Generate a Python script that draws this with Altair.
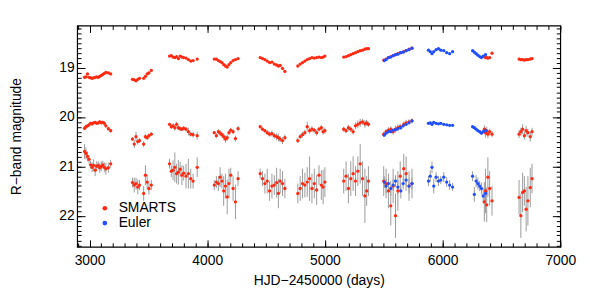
import altair as alt
import pandas as pd

# ---------------- data ----------------
smarts_hjd = [2958, 2970, 2983, 2996, 3009, 3022, 3035, 3048, 3061, 3074, 3087, 3100, 3113, 3126, 3139, 3160, 3180,
              3365, 3380, 3395, 3410, 3425, 3460, 3475, 3490, 3505, 3525,
              3680, 3695, 3710, 3725, 3740, 3755, 3770, 3785, 3800, 3820, 3840, 3860, 3880, 3915,
              4060, 4078, 4095, 4110, 4125, 4140, 4155, 4170, 4185, 4200, 4220, 4240, 4262,
              4450, 4470, 4490, 4510, 4530, 4550, 4570, 4590, 4605, 4620, 4640, 4660,
              4770, 4790, 4810, 4830, 4850, 4870, 4890, 4910, 4930, 4950, 4970, 4985, 5000,
              5160, 5180, 5200, 5220, 5240, 5260, 5280, 5300, 5320, 5340, 5355, 5370,
              5500, 5520, 5540, 5560, 5580, 5600, 5620, 5640, 5670, 5690, 5715, 5740,
              6355, 6365, 6375, 6385, 6400, 6420,
              6650, 6665, 6680, 6695, 6710, 6725, 6745, 6760]
smarts_A = [19.20, 19.19, 19.13, 19.20, 19.21, 19.22, 19.21, 19.20, 19.19, 19.20, 19.18, 19.16, 19.14, 19.12, 19.10, 19.11, 19.13,
            19.24, 19.25, 19.27, 19.24, 19.22, 19.22, 19.18, 19.13, 19.11, 19.06,
            18.77, 18.76, 18.79, 18.80, 18.78, 18.82, 18.77, 18.79, 18.80, 18.81, 18.84, 18.87, 18.86, 18.83,
            18.83, 18.83, 18.86, 18.88, 18.90, 18.94, 18.97, 18.99, 18.94, 18.90, 18.86, 18.84, 18.82,
            18.80, 18.82, 18.84, 18.87, 18.90, 18.89, 18.93, 18.95, 18.97, 18.96, 19.02, 19.08,
            18.97, 18.93, 18.90, 18.87, 18.84, 18.82, 18.80, 18.81, 18.80, 18.79, 18.80, 18.79, 18.77,
            18.79, 18.78, 18.76, 18.74, 18.72, 18.70, 18.68, 18.66, 18.65, 18.63, 18.62, 18.62,
            18.85, 18.83, 18.80, 18.78, 18.76, 18.74, 18.72, 18.70, 18.68, 18.66, 18.63, 18.61,
            18.78, 18.80, 18.80, 18.81, 18.80, 18.71,
            18.83, 18.84, 18.84, 18.85, 18.84, 18.84, 18.83, 18.82]
smarts_B = [20.23, 20.20, 20.18, 20.16, 20.13, 20.14, 20.12, 20.11, 20.13, 20.12, 20.10, 20.12, 20.11, 20.13, 20.18, 20.24, 20.28,
            20.45, 20.55, 20.40, 20.50, 20.48, 20.55, 20.40, 20.42, 20.38, 20.35,
            20.15, 20.20, 20.18, 20.22, 20.15, 20.22, 20.24, 20.25, 20.23, 20.25, 20.30, 20.35, 20.36, 20.38,
            20.32, 20.38, 20.30, 20.33, 20.36, 20.40, 20.45, 20.42, 20.32, 20.27, 20.30, 20.44, 20.24,
            20.20, 20.25, 20.28, 20.32, 20.35, 20.34, 20.38, 20.40, 20.42, 20.45, 20.48, 20.42,
            20.48, 20.40, 20.36, 20.32, 20.20, 20.28, 20.25, 20.27, 20.32, 20.25, 20.22, 20.30, 20.28,
            20.25, 20.28, 20.22, 20.25, 20.30, 20.18, 20.15, 20.12, 20.10, 20.14, 20.12, 20.15,
            20.35, 20.30, 20.27, 20.25, 20.30, 20.25, 20.22, 20.20, 20.15, 20.12, 20.10, 20.08,
            20.25, 20.32, 20.28, 20.35, 20.30, 20.35,
            20.35, 20.30, 20.25, 20.38, 20.28, 20.32, 20.40, 20.30]
smarts_C = [20.70, 20.74, 20.80, 20.86, 20.97, 21.02, 20.98, 21.08, 21.00, 20.98, 21.03, 21.00, 20.97, 21.02, 21.05, 21.03, 20.95,
            21.33, 21.38, 21.35, 21.42, 21.38, 21.55, 21.18, 21.32, 21.45, 21.38,
            20.95, 21.10, 21.08, 21.02, 21.15, 21.12, 21.06, 21.18, 21.14, 21.20, 21.15, 21.25, 21.30, 21.02,
            21.38, 21.32, 21.35, 21.22, 21.30, 21.50, 21.40, 21.62, 21.35, 21.18, 21.45, 21.72, 21.25,
            21.15, 21.25, 21.35, 21.30, 21.50, 21.40, 21.38, 21.33, 21.55, 21.30, 21.35, 21.45,
            21.55, 21.45, 21.35, 21.38, 21.32, 21.25, 21.45, 21.35, 21.48, 21.18, 21.38, 21.42, 21.32,
            21.30, 21.20, 21.45, 21.25, 21.15, 21.30, 21.10, 20.95, 21.25, 21.60, 21.50, 21.30,
            21.30, 21.35, 21.50, 21.80, 21.40, 22.00, 21.50, 21.20, 21.05, 21.15, 21.40, 21.35,
            21.72, 21.50, 21.78, 21.22, 21.45, 21.70,
            21.63, 22.00, 21.53, 21.50, 21.87, 21.70, 21.43, 21.25]
smarts_errA = [0.02] * 17 + [0.02] * 10 + [0.02] * 14 + [0.02] * 13 + [0.02] * 12 + [0.02] * 13 + [0.02] * 12 + [0.02] * 12 + [0.03] * 6 + [0.03] * 8
smarts_errB = [0.04, 0.04, 0.03, 0.03, 0.03, 0.04, 0.03, 0.03, 0.03, 0.04, 0.03, 0.03, 0.03, 0.04, 0.04, 0.04, 0.04,
               0.04, 0.08, 0.10, 0.06, 0.05, 0.06, 0.05, 0.05, 0.04, 0.04,
               0.03, 0.04, 0.05, 0.06, 0.05, 0.05, 0.05, 0.04, 0.04, 0.05, 0.08, 0.05, 0.06, 0.08,
               0.03, 0.05, 0.05, 0.06, 0.06, 0.07, 0.07, 0.06, 0.05, 0.05, 0.05, 0.06, 0.05,
               0.03, 0.04, 0.04, 0.05, 0.05, 0.06, 0.06, 0.07, 0.08, 0.06, 0.07, 0.06,
               0.05, 0.05, 0.06, 0.06, 0.10, 0.06, 0.06, 0.05, 0.06, 0.05, 0.05, 0.06, 0.06,
               0.05, 0.05, 0.06, 0.06, 0.06, 0.07, 0.08, 0.08, 0.06, 0.08, 0.06, 0.05,
               0.05, 0.05, 0.06, 0.06, 0.06, 0.07, 0.07, 0.06, 0.06, 0.06, 0.05, 0.05,
               0.08, 0.10, 0.08, 0.08, 0.06, 0.06,
               0.08, 0.08, 0.10, 0.08, 0.10, 0.08, 0.10, 0.08]
smarts_errC = [0.15, 0.12, 0.10, 0.08, 0.08, 0.10, 0.12, 0.12, 0.10, 0.08, 0.10, 0.10, 0.08, 0.10, 0.12, 0.10, 0.08,
               0.10, 0.15, 0.12, 0.15, 0.10, 0.15, 0.20, 0.15, 0.12, 0.10,
               0.10, 0.12, 0.20, 0.30, 0.20, 0.25, 0.15, 0.20, 0.15, 0.25, 0.30, 0.20, 0.15, 0.20,
               0.10, 0.12, 0.15, 0.20, 0.15, 0.30, 0.25, 0.35, 0.30, 0.15, 0.25, 0.35, 0.15,
               0.10, 0.15, 0.20, 0.25, 0.20, 0.25, 0.20, 0.30, 0.30, 0.25, 0.25, 0.20,
               0.20, 0.25, 0.30, 0.25, 0.30, 0.45, 0.30, 0.30, 0.30, 0.20, 0.30, 0.35, 0.30,
               0.25, 0.30, 0.30, 0.35, 0.35, 0.30, 0.30, 0.40, 0.35, 0.55, 0.30, 0.30,
               0.30, 0.30, 0.35, 0.40, 0.35, 0.45, 0.40, 0.30, 0.30, 0.35, 0.30, 0.30,
               0.40, 0.45, 0.35, 0.40, 0.35, 0.30,
               0.35, 0.45, 0.40, 0.30, 0.45, 0.50, 0.40, 0.30]

euler_hjd = [5505, 5520, 5540, 5560, 5580, 5600, 5620, 5645, 5665, 5690, 5715, 5740,
             5880, 5895, 5910, 5925, 5945, 5965, 5985, 6010, 6035, 6060, 6085,
             6255, 6270, 6285, 6300, 6315, 6330, 6345, 6365]
euler_A = [18.86, 18.84, 18.80, 18.79, 18.76, 18.74, 18.73, 18.70, 18.69, 18.66, 18.64, 18.61,
           18.65, 18.68, 18.72, 18.68, 18.64, 18.62, 18.65, 18.66, 18.70, 18.72, 18.68,
           18.66, 18.69, 18.72, 18.75, 18.78, 18.80, 18.77, 18.74]
euler_B = [20.37, 20.33, 20.30, 20.30, 20.27, 20.26, 20.24, 20.22, 20.18, 20.15, 20.12, 20.08,
           20.13, 20.12, 20.15, 20.11, 20.13, 20.14, 20.13, 20.15, 20.16, 20.17, 20.17,
           20.20, 20.22, 20.25, 20.28, 20.30, 20.33, 20.30, 20.28]
euler_C = [21.32, 21.40, 21.35, 21.45, 21.38, 21.30, 21.42, 21.50, 21.35, 21.28, 21.40, 21.35,
           21.30, 21.20, 21.02, 21.40, 21.22, 21.30, 21.28, 21.22, 21.32, 21.38, 21.42,
           21.20, 21.57, 21.30, 21.35, 21.40, 21.45, 21.60, 21.55]
euler_errA = [0.01] * 31
euler_errB = [0.02] * 31
euler_errC = [0.12, 0.15, 0.10, 0.15, 0.12, 0.12, 0.15, 0.15, 0.12, 0.12, 0.15, 0.12,
              0.10, 0.12, 0.12, 0.15, 0.10, 0.10, 0.08, 0.10, 0.10, 0.10, 0.08,
              0.10, 0.15, 0.12, 0.12, 0.10, 0.12, 0.15, 0.12]

surveys = ["SMARTS", "Euler"]
colors = ["#ff2a12", "#1f4fff"]

x_major = [3000, 4000, 5000, 6000, 7000]
x_minor = list(range(2900, 7001, 100))
y_major = [19, 20, 21, 22]
y_minor = [round(18.2 + 0.1 * i, 1) for i in range(45)]

# ---------------- table ----------------
rows = []
for survey, hjd, mags, errs in [
    ("SMARTS", smarts_hjd, [smarts_A, smarts_B, smarts_C], [smarts_errA, smarts_errB, smarts_errC]),
    ("Euler", euler_hjd, [euler_A, euler_B, euler_C], [euler_errA, euler_errB, euler_errC]),
]:
    for m_list, e_list in zip(mags, errs):
        for t, m, e in zip(hjd, m_list, e_list):
            rows.append({"hjd": t, "mag": m, "lo": m - e, "hi": m + e, "survey": survey})
df = pd.DataFrame(rows)

FONT = "Liberation Sans"
xs = alt.Scale(domain=[2895, 7000], nice=False, zero=False)
ys = alt.Scale(domain=[18.15, 22.63], reverse=True, nice=False, zero=False)


def xaxis(orient, values, size, labels, title=None):
    kw = dict(orient=orient, values=values, tickSize=size, offset=-size, domain=False,
              grid=False, labels=labels, tickColor="black", tickWidth=1)
    if labels:
        kw.update(format="d", labelPadding=7, labelFontSize=14, labelFont=FONT,
                  labelColor="black", labelFlush=False)
    if title:
        kw.update(title=title, titleFont=FONT, titleFontSize=14, titleFontWeight="normal",
                  titleColor="black", titlePadding=6)
    else:
        kw.update(title=None)
    return alt.Axis(**kw)


def yaxis(orient, values, size, labels, title=None):
    kw = dict(orient=orient, values=values, tickSize=size, offset=-size, domain=False,
              grid=False, labels=labels, tickColor="black", tickWidth=1)
    if labels:
        kw.update(format="d", labelPadding=3, labelFontSize=14, labelFont=FONT,
                  labelColor="black", labelFlush=False)
    if title:
        kw.update(title=title, titleFont=FONT, titleFontSize=14, titleFontWeight="normal",
                  titleColor="black", titlePadding=36)
    else:
        kw.update(title=None)
    return alt.Axis(**kw)


base = alt.Chart(df)

bars = base.mark_rule(color="#9a9a9a", strokeWidth=1).encode(
    x=alt.X("hjd:Q", scale=xs, axis=xaxis("bottom", x_major, 7, True, "HJD\u22122450000 (days)")),
    y=alt.Y("lo:Q", scale=ys, axis=yaxis("left", y_major, 8, True, "R\u2212band magnitude")),
    y2="hi:Q",
)

points = base.mark_circle(size=11, opacity=1).encode(
    x=alt.X("hjd:Q", scale=xs, axis=xaxis("bottom", x_minor, 4, False)),
    y=alt.Y("mag:Q", scale=ys, axis=yaxis("left", y_minor, 4, False)),
    color=alt.Color(
        "survey:N",
        scale=alt.Scale(domain=surveys, range=colors),
        legend=alt.Legend(orient="none", legendX=21, legendY=178, title=None,
                          labelFont=FONT, labelFontSize=14, labelColor="black",
                          symbolType="circle", symbolSize=22, symbolStrokeWidth=0,
                          padding=0, rowPadding=1, labelOffset=7),
    ),
)

top_major = base.mark_point(opacity=0).encode(
    x=alt.X("hjd:Q", scale=xs, axis=xaxis("top", x_major, 7, False)),
    y=alt.Y("mag:Q", scale=ys, axis=yaxis("right", y_major, 8, False)),
)
top_minor = base.mark_point(opacity=0).encode(
    x=alt.X("hjd:Q", scale=xs, axis=xaxis("top", x_minor, 4, False)),
    y=alt.Y("mag:Q", scale=ys, axis=yaxis("right", y_minor, 4, False)),
)

chart = (
    alt.layer(bars, points, top_major, top_minor)
    .resolve_axis(x="independent", y="independent")
    .properties(
        width=489, height=224,
        autosize=alt.AutoSizeParams(type="none"),
        padding={"left": 70, "top": 16, "right": 22, "bottom": 40},
        background="white",
    )
    .configure_view(stroke="black", strokeWidth=1.2)
)

chart.save("out.html", embed_options={"renderer": "svg", "actions": False})
